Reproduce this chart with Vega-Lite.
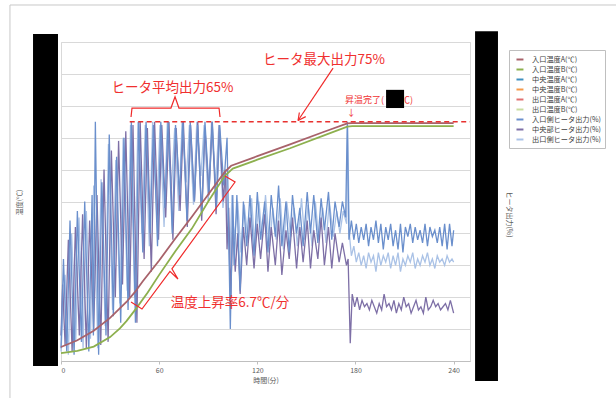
{
  "$schema": "https://vega.github.io/schema/vega-lite/v6.json",
  "width": 409,
  "height": 319,
  "autosize": {"type": "none"},
  "padding": {"left": 61, "top": 42, "right": 146, "bottom": 37},
  "background": "white",
  "datasets": {
    "tA": [{"t":0,"T":44},{"t":10,"T":65},{"t":20,"T":95},{"t":30,"T":135},{"t":40,"T":185},{"t":45,"T":215},{"t":50,"T":250},{"t":60,"T":315},{"t":70,"T":385},{"t":80,"T":452},{"t":90,"T":522},{"t":100,"T":592},{"t":104,"T":612},{"t":120,"T":642},{"t":140,"T":679},{"t":160,"T":717},{"t":175,"T":745},{"t":178,"T":746},{"t":240,"T":746}],
    "tB": [{"t":0,"T":25},{"t":10,"T":32},{"t":20,"T":45},{"t":30,"T":75},{"t":36,"T":102},{"t":40,"T":125},{"t":46,"T":165},{"t":53,"T":215},{"t":60,"T":270},{"t":70,"T":345},{"t":80,"T":415},{"t":90,"T":500},{"t":100,"T":580},{"t":105,"T":603},{"t":120,"T":631},{"t":140,"T":667},{"t":160,"T":706},{"t":175,"T":735},{"t":178,"T":736},{"t":240,"T":736}],
    "b": [{"t":0,"v":4},{"t":1.5,"v":32},{"t":3.5,"v":3},{"t":5.5,"v":44},{"t":8,"v":2},{"t":10,"v":47},{"t":12.5,"v":6},{"t":14.5,"v":50},{"t":17,"v":3},{"t":19,"v":52},{"t":19.8,"v":8},{"t":21,"v":75},{"t":23,"v":2},{"t":25,"v":56},{"t":27.5,"v":8},{"t":29.5,"v":71},{"t":32,"v":14},{"t":34,"v":64},{"t":36.5,"v":12},{"t":38.5,"v":70},{"t":41,"v":16},{"t":43,"v":75},{"t":45.5,"v":12},{"t":47.5,"v":75},{"t":50,"v":34},{"t":52,"v":75},{"t":54.5,"v":40},{"t":56.5,"v":74},{"t":59,"v":36},{"t":61,"v":75},{"t":63.5,"v":48},{"t":65.5,"v":75},{"t":68,"v":40},{"t":70,"v":74},{"t":72.5,"v":52},{"t":74.5,"v":75},{"t":77,"v":44},{"t":79,"v":75},{"t":81.5,"v":50},{"t":83.5,"v":74},{"t":86,"v":46},{"t":88,"v":75},{"t":90.5,"v":53},{"t":92.5,"v":75},{"t":95,"v":48},{"t":97,"v":74},{"t":99.5,"v":55},{"t":101.5,"v":70},{"t":103.5,"v":10},{"t":105,"v":52},{"t":105.8,"v":30},{"t":107.5,"v":52},{"t":109.5,"v":22},{"t":111.5,"v":50},{"t":113.5,"v":36},{"t":115.5,"v":52},{"t":118,"v":33},{"t":120,"v":53},{"t":122,"v":38},{"t":124.5,"v":50},{"t":126.5,"v":34},{"t":128.5,"v":52},{"t":131,"v":39},{"t":133,"v":55},{"t":135,"v":36},{"t":137.5,"v":50},{"t":139.5,"v":34},{"t":141.5,"v":52},{"t":144,"v":40},{"t":146,"v":48},{"t":148,"v":36},{"t":150.5,"v":53},{"t":152.5,"v":40},{"t":154.5,"v":52},{"t":157,"v":37},{"t":159,"v":51},{"t":161,"v":41},{"t":163.5,"v":53},{"t":165.5,"v":38},{"t":167.5,"v":50},{"t":170,"v":42},{"t":172,"v":50},{"t":174,"v":45},{"t":175,"v":75},{"t":176,"v":38},{"t":177.5,"v":44},{"t":179,"v":38},{"t":180.5,"v":43},{"t":182,"v":37},{"t":183.5,"v":42},{"t":185,"v":38},{"t":186.5,"v":43},{"t":188,"v":36},{"t":189.5,"v":42},{"t":191,"v":38},{"t":192.5,"v":44},{"t":194,"v":37},{"t":195.5,"v":43},{"t":197,"v":35},{"t":198.5,"v":42},{"t":200,"v":38},{"t":201.5,"v":43},{"t":203,"v":36},{"t":204.5,"v":41},{"t":206,"v":35},{"t":207.5,"v":43},{"t":209,"v":34},{"t":210.5,"v":42},{"t":212,"v":39},{"t":213.5,"v":43},{"t":215,"v":37},{"t":216.5,"v":42},{"t":218,"v":38},{"t":219.5,"v":41},{"t":221,"v":37},{"t":222.5,"v":43},{"t":224,"v":36},{"t":225.5,"v":42},{"t":227,"v":39},{"t":228.5,"v":41},{"t":230,"v":37},{"t":231.5,"v":42},{"t":233,"v":36},{"t":234.5,"v":43},{"t":236,"v":35},{"t":237.5,"v":43},{"t":239,"v":36},{"t":240,"v":41}],
    "p": [{"t":0,"v":8},{"t":1,"v":24},{"t":2.5,"v":5},{"t":4.5,"v":38},{"t":6.8,"v":3},{"t":8.8,"v":42},{"t":11.2,"v":8},{"t":13.2,"v":46},{"t":15.5,"v":4},{"t":17.5,"v":44},{"t":20,"v":10},{"t":22,"v":52},{"t":24.3,"v":5},{"t":26.3,"v":60},{"t":28.8,"v":6},{"t":30.8,"v":66},{"t":33.2,"v":20},{"t":35.2,"v":69},{"t":37.6,"v":24},{"t":39.6,"v":72},{"t":42,"v":20},{"t":44,"v":74},{"t":46.4,"v":12},{"t":48.4,"v":75},{"t":50.8,"v":32},{"t":52.8,"v":73},{"t":55.2,"v":28},{"t":57.2,"v":75},{"t":59.6,"v":38},{"t":61.6,"v":74},{"t":64,"v":45},{"t":66,"v":75},{"t":68.4,"v":38},{"t":70.4,"v":73},{"t":72.8,"v":47},{"t":74.8,"v":75},{"t":77.2,"v":42},{"t":79.2,"v":74},{"t":81.6,"v":50},{"t":83.6,"v":75},{"t":86,"v":44},{"t":88,"v":73},{"t":90.4,"v":52},{"t":92.4,"v":75},{"t":94.8,"v":46},{"t":96.8,"v":74},{"t":99.2,"v":50},{"t":100.5,"v":60},{"t":101.5,"v":35},{"t":102.5,"v":48},{"t":103.8,"v":20},{"t":105,"v":44},{"t":106.5,"v":28},{"t":108,"v":40},{"t":109.5,"v":21},{"t":111.5,"v":42},{"t":113.5,"v":30},{"t":115.5,"v":45},{"t":118,"v":29},{"t":120,"v":43},{"t":122,"v":32},{"t":124.5,"v":46},{"t":126.5,"v":28},{"t":128.5,"v":42},{"t":131,"v":30},{"t":133,"v":44},{"t":135,"v":27},{"t":137.5,"v":41},{"t":139.5,"v":32},{"t":141.5,"v":45},{"t":144,"v":29},{"t":146,"v":42},{"t":148,"v":31},{"t":150.5,"v":44},{"t":152.5,"v":29},{"t":154.5,"v":41},{"t":157,"v":32},{"t":159,"v":45},{"t":161,"v":30},{"t":163.5,"v":42},{"t":165.5,"v":29},{"t":167.5,"v":40},{"t":170,"v":31},{"t":172,"v":37},{"t":174.5,"v":30},{"t":175.5,"v":32},{"t":176.8,"v":5.6},{"t":178,"v":21},{"t":179.5,"v":17},{"t":181,"v":20},{"t":182.5,"v":16},{"t":184,"v":19},{"t":185.5,"v":17},{"t":187,"v":18},{"t":188.5,"v":16},{"t":190,"v":19},{"t":191.5,"v":17},{"t":193,"v":15},{"t":194.5,"v":18},{"t":196,"v":16},{"t":197.5,"v":21},{"t":199,"v":17},{"t":200.5,"v":18},{"t":202,"v":16},{"t":203.5,"v":19},{"t":205,"v":15},{"t":206.5,"v":18},{"t":208,"v":16},{"t":209.5,"v":20},{"t":211,"v":17},{"t":212.5,"v":18},{"t":214,"v":15},{"t":215.5,"v":17},{"t":217,"v":19},{"t":218.5,"v":16},{"t":220,"v":17},{"t":221.5,"v":15},{"t":223,"v":20},{"t":224.5,"v":16},{"t":226,"v":17},{"t":227.5,"v":19},{"t":229,"v":17},{"t":230.5,"v":18},{"t":232,"v":16},{"t":233.5,"v":17},{"t":235,"v":18},{"t":236.5,"v":16},{"t":238,"v":19},{"t":239,"v":17},{"t":240,"v":15}],
    "l": [{"t":0,"v":3},{"t":2.5,"v":27},{"t":4.5,"v":2},{"t":6.5,"v":40},{"t":9,"v":6},{"t":11,"v":45},{"t":13.5,"v":4},{"t":15.5,"v":47},{"t":18,"v":7},{"t":20,"v":55},{"t":22.5,"v":4},{"t":24.5,"v":57},{"t":27,"v":11},{"t":29,"v":68},{"t":31.5,"v":16},{"t":33.5,"v":63},{"t":36,"v":18},{"t":38,"v":70},{"t":40.5,"v":22},{"t":42.5,"v":74},{"t":45,"v":20},{"t":47,"v":75},{"t":49.5,"v":40},{"t":51.5,"v":74},{"t":54,"v":36},{"t":56,"v":75},{"t":58.5,"v":46},{"t":60.5,"v":74},{"t":63,"v":42},{"t":65,"v":75},{"t":67.5,"v":54},{"t":69.5,"v":73},{"t":72,"v":47},{"t":74,"v":75},{"t":76.5,"v":56},{"t":78.5,"v":74},{"t":81,"v":49},{"t":83,"v":75},{"t":85.5,"v":58},{"t":87.5,"v":74},{"t":90,"v":50},{"t":92,"v":75},{"t":94.5,"v":55},{"t":96.5,"v":74},{"t":99,"v":48},{"t":101,"v":58},{"t":103,"v":30},{"t":104.5,"v":52},{"t":106,"v":38},{"t":108,"v":50},{"t":110,"v":34},{"t":112,"v":49},{"t":114.5,"v":37},{"t":116.5,"v":51},{"t":118.5,"v":35},{"t":121,"v":50},{"t":123,"v":38},{"t":125,"v":52},{"t":127.5,"v":36},{"t":129.5,"v":48},{"t":131.5,"v":38},{"t":134,"v":51},{"t":136,"v":35},{"t":138,"v":50},{"t":140.5,"v":39},{"t":142.5,"v":48},{"t":144.5,"v":36},{"t":147,"v":51},{"t":149,"v":38},{"t":151,"v":49},{"t":153.5,"v":36},{"t":155.5,"v":50},{"t":157.5,"v":38},{"t":160,"v":48},{"t":162,"v":37},{"t":164,"v":50},{"t":166.5,"v":39},{"t":168.5,"v":47},{"t":170.5,"v":40},{"t":172.5,"v":47},{"t":174.6,"v":43},{"t":175.2,"v":74},{"t":176.2,"v":40},{"t":177.5,"v":33},{"t":179,"v":36},{"t":180.5,"v":31},{"t":182,"v":34},{"t":183.5,"v":30},{"t":185,"v":33},{"t":186.5,"v":29},{"t":188,"v":34},{"t":189.5,"v":31},{"t":191,"v":33},{"t":192.5,"v":28},{"t":194,"v":34},{"t":195.5,"v":30},{"t":197,"v":33},{"t":198.5,"v":31},{"t":200,"v":34},{"t":201.5,"v":29},{"t":203,"v":33},{"t":204.5,"v":30},{"t":206,"v":34},{"t":207.5,"v":28},{"t":209,"v":32},{"t":210.5,"v":30},{"t":212,"v":33},{"t":213.5,"v":31},{"t":215,"v":34},{"t":216.5,"v":29},{"t":218,"v":32},{"t":219.5,"v":30},{"t":221,"v":33},{"t":222.5,"v":31},{"t":224,"v":34},{"t":225.5,"v":30},{"t":227,"v":32},{"t":228.5,"v":29},{"t":230,"v":33},{"t":231.5,"v":31},{"t":233,"v":32},{"t":234.5,"v":30},{"t":236,"v":33},{"t":237.5,"v":31},{"t":239,"v":32},{"t":240,"v":31}],
    "labels": [{"t":160.8,"v":94.4,"label":"ヒータ最大出力75%"},{"t":68.2,"v":85.6,"label":"ヒータ平均出力65%"},{"t":103.3,"v":18.2,"label":"温度上昇率6.7℃/分"}],
    "small": [{"t":173.6,"v":81.8,"label":"昇温完了( 750℃)"},{"t":174.6,"v":77.8,"label":"↓"}],
    "dash": [{"t":42,"v":75},{"t":250,"v":75}],
    "arrow": [{"t":166.3,"v":91.8,"t2":144.9,"v2":75.4},{"t":144.9,"v":75.4,"t2":149.6,"v2":76.6},{"t":144.9,"v":75.4,"t2":145.7,"v2":77.9}],
    "brackets": [
      {"g":"h","o":1,"t":42.8,"v":76.5},{"g":"h","o":2,"t":43.4,"v":79.3},{"g":"h","o":3,"t":67.2,"v":79.3},{"g":"h","o":4,"t":69.7,"v":82.8},{"g":"h","o":5,"t":72.1,"v":79.3},{"g":"h","o":6,"t":96.6,"v":79.3},{"g":"h","o":7,"t":97.2,"v":76.5},
      {"g":"d","o":1,"t":42.8,"v":18.5},{"g":"d","o":2,"t":49.5,"v":16.3},{"g":"d","o":3,"t":66.6,"v":28.1},{"g":"d","o":4,"t":71.5,"v":25.7},{"g":"d","o":5,"t":67.8,"v":28.9},{"g":"d","o":6,"t":106.4,"v":56.1},{"g":"d","o":7,"t":100.2,"v":58.0}
    ],
    "boxes": [{"t":-17.1,"t2":-1.84,"v":102.5,"v2":-1.6},{"t":253.1,"t2":267.1,"v":103.4,"v2":-6.3},{"t":198.7,"t2":209.7,"v":85,"v2":79.3}],
    "frame": [{"t":-31.2,"t2":342,"v":111.6,"v2":-13}]
  },
  "encoding": {
    "x": {"field": "t", "type": "quantitative", "scale": {"domain": [0, 250], "nice": false, "zero": false},
      "axis": {"values": [0, 60, 120, 180, 240], "title": "時間(分)", "grid": false, "domainColor": "#bfbfbf", "tickColor": "#bfbfbf", "tickSize": 3, "labelPadding": 2, "titlePadding": 3}}
  },
  "layer": [
    {
      "encoding": {"y": {"field": "v", "type": "quantitative", "scale": {"domain": [0, 100], "nice": false, "zero": false},
        "axis": {"orient": "right", "values": [0,10,20,30,40,50,60,70,80,90,100], "labels": false, "ticks": false, "domain": false, "grid": true, "gridColor": "#d9d9d9", "title": "ヒータ出力(%)", "titleAngle": 90, "titleX": 35, "titleY": 172}}},
      "layer": [
        {"data": {"name": "l"}, "mark": {"type": "line", "strokeWidth": 1.3},
          "encoding": {"color": {"datum": "出口側ヒータ出力(%)", "type": "nominal",
            "scale": {"domain": ["入口温度A(℃)","入口温度B(℃)","中央温度A(℃)","中央温度B(℃)","出口温度A(℃)","出口温度B(℃)","入口側ヒータ出力(%)","中央部ヒータ出力(%)","出口側ヒータ出力(%)"],
              "range": ["#a8626a","#8db04e","#3f8fbf","#f59a4a","#e07070","#c9dca0","#6a8fcc","#7d6fa6","#aac2e6"]},
            "legend": {"orient": "none", "legendX": 448, "legendY": 8, "title": null, "symbolType": "M-0.45,0H1.1", "symbolStrokeWidth": 2, "symbolSize": 81, "labelFontSize": 7.2, "labelFont": "Noto Sans CJK JP", "labelColor": "#404040", "strokeColor": "#bfbfbf", "padding": 4, "rowPadding": -1.2, "labelOffset": 8, "fillColor": "white", "labelLimit": 0}}}},
        {"data": {"name": "p"}, "mark": {"type": "line", "strokeWidth": 1.3},
          "encoding": {"color": {"datum": "中央部ヒータ出力(%)", "type": "nominal"}}},
        {"data": {"name": "b"}, "mark": {"type": "line", "strokeWidth": 1.3},
          "encoding": {"color": {"datum": "入口側ヒータ出力(%)", "type": "nominal"}}}
      ]
    },
    {
      "encoding": {"y": {"field": "T", "type": "quantitative", "scale": {"domain": [0, 1000], "nice": false, "zero": false},
        "axis": {"orient": "left", "labels": false, "ticks": false, "domain": false, "grid": false, "title": "温度(℃)", "titleAngle": -90, "titleX": -39, "titleY": 160}}},
      "layer": [
        {"data": {"name": "tB"}, "mark": {"type": "line", "strokeWidth": 1.8},
          "encoding": {"color": {"datum": "入口温度B(℃)", "type": "nominal"}}},
        {"data": {"name": "tA"}, "mark": {"type": "line", "strokeWidth": 1.8},
          "encoding": {"color": {"datum": "入口温度A(℃)", "type": "nominal"}}}
      ]
    },
    {
      "encoding": {"y": {"field": "v", "type": "quantitative", "scale": {"domain": [0, 100], "nice": false, "zero": false}, "axis": null}},
      "layer": [
        {"data": {"name": "dash"}, "mark": {"type": "line", "color": "#e8312f", "strokeWidth": 1.6, "strokeDash": [5, 3.5]}, "encoding": {}},
        {"data": {"name": "arrow"}, "mark": {"type": "rule", "color": "#f02a2a", "strokeWidth": 1.2},
          "encoding": {"x2": {"field": "t2"}, "y2": {"field": "v2"}}},
        {"data": {"name": "brackets"}, "mark": {"type": "line", "color": "#f02a2a", "strokeWidth": 1.2},
          "encoding": {"detail": {"field": "g"}, "order": {"field": "o", "type": "quantitative"}}},
        {"data": {"name": "labels"}, "mark": {"type": "text", "color": "#f0302f", "font": "Noto Sans CJK JP", "fontSize": 13.5, "align": "center", "baseline": "middle"},
          "encoding": {"text": {"field": "label"}}},
        {"data": {"name": "small"}, "mark": {"type": "text", "color": "#f0302f", "font": "Noto Sans CJK JP", "fontSize": 9, "align": "left", "baseline": "middle"},
          "encoding": {"text": {"field": "label"}}},
        {"data": {"name": "frame"}, "mark": {"type": "rect", "fill": null, "stroke": "#c8c8c8", "strokeWidth": 1},
          "encoding": {"x2": {"field": "t2"}, "y2": {"field": "v2"}}},
        {"data": {"name": "boxes"}, "mark": {"type": "rect", "color": "black"},
          "encoding": {"x2": {"field": "t2"}, "y2": {"field": "v2"}}}
      ]
    }
  ],
  "resolve": {"scale": {"y": "independent"}, "axis": {"y": "independent"}},
  "config": {
    "view": {"stroke": "#d9d9d9", "strokeWidth": 1},
    "font": "Noto Sans CJK JP",
    "axis": {"labelFont": "Noto Sans CJK JP", "titleFont": "Noto Sans CJK JP", "labelColor": "#595959", "titleColor": "#595959", "labelFontSize": 7, "titleFontSize": 7, "titleFontWeight": "normal"}
  }
}
